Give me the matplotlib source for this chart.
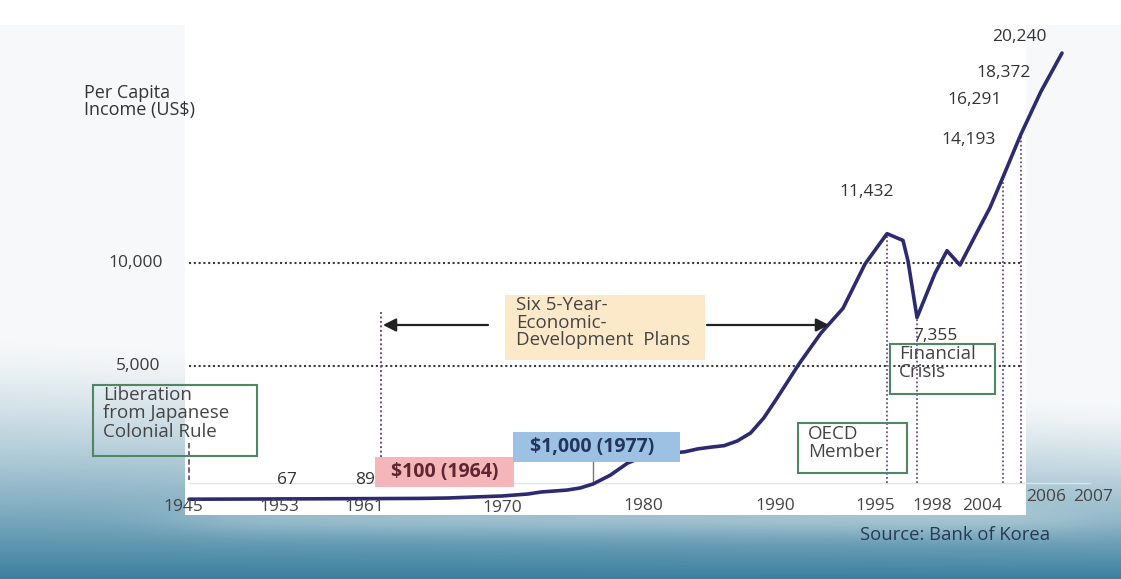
import numpy as np
import matplotlib
matplotlib.use("Agg")
import matplotlib.pyplot as plt
from matplotlib.patches import Rectangle, FancyArrowPatch
from matplotlib.lines import Line2D

# ---------------- data ----------------
years = [1945, 1953, 1961, 1964, 1966, 1968, 1970, 1972, 1973, 1974, 1975, 1976,
         1977, 1978, 1979, 1980, 1981, 1982, 1983, 1984, 1985, 1986, 1987, 1988,
         1989, 1990, 1991, 1992, 1993, 1994, 1995, 1996, 1997, 1998, 1999, 2000,
         2001, 2002, 2003, 2004, 2005, 2006, 2007]
income = [50, 67, 89, 100, 125, 190, 250, 375, 500, 560, 620, 750,
          1000, 1300, 1710, 1950, 2000, 2050, 2090, 2190, 2250, 2300, 2460, 2730,
          3240, 3910, 5100, 6600, 7800, 9950, 11432, 11100, 10100, 7355, 9500, 10600,
          9900, 11500, 12700, 14193, 16291, 18372, 20240]

tick_years = [1945, 1953, 1961, 1970, 1980, 1990, 1995, 1998, 2004, 2006, 2007]
grid_values = [5000, 10000]
grid_labels = ["5,000", "10,000"]

label_years = [1953, 1961, 1995, 1998, 2004, 2005, 2006, 2007]
label_values = [67, 89, 11432, 7355, 14193, 16291, 18372, 20240]
label_texts = ["67", "89", "11,432", "7,355", "14,193", "16,291", "18,372", "20,240"]

event_years_curve = [1995, 1998, 2004, 2005]

# ---------------- layout / styles ----------------
W, H = 1121, 579
FONT = ["Open Sans", "DejaVu Sans"]
plt.rcParams["font.family"] = FONT

# piecewise scale anchors (the infographic's axes are not linear)
X_YEARS = [1945, 1953, 1961, 1970, 1977, 1980, 1990, 1995, 1996, 1997, 1998, 1999,
           2000, 2001, 2002, 2003, 2004, 2005, 2006, 2007]
X_PX = [189, 281, 381, 502, 593, 645, 777, 887, 903, 908, 917, 935,
        947, 960, 977, 990, 1003, 1021, 1041, 1062]
Y_VALS = [0, 1000, 5000, 10000, 25000]
Y_PX = [0, 16, 134, 237, 544.5]
AX_BOTTOM_PX, AX_TOP_PX = 500, 54


def xfwd(v):
    return np.interp(v, X_YEARS, X_PX)


def xinv(p):
    return np.interp(p, X_PX, X_YEARS)


def yfwd(v):
    return np.interp(v, Y_VALS, Y_PX)


def yinv(p):
    return np.interp(p, Y_PX, Y_VALS)


def F(x, y):
    """figure-pixel (from top-left) -> figure fraction"""
    return (x / W, 1 - y / H)


def axfrac(ypx):
    return (AX_BOTTOM_PX - ypx) / (AX_BOTTOM_PX - AX_TOP_PX)


fig = plt.figure(figsize=(W / 100, H / 100), dpi=100)

# ---------------- background ----------------
bg = fig.add_axes([0, 0, 1, 1], zorder=0)
bg.set_axis_off()
yy, xx = np.mgrid[0:H, 0:W].astype(float)
light = np.array([0.972, 0.976, 0.980])
teal = np.array([0.23, 0.50, 0.62])
y0 = 335 + 65 * (xx / W)
s = np.clip((yy - y0) / (H - y0), 0, 1) ** 1.35
wx = 1 / (1 + np.exp(-(xx - 190) / 35)) * 1 / (1 + np.exp(-(1080 - xx) / 35))
glow = 0.16 * np.exp(-((yy - 520) / 16) ** 2) * wx
s = np.clip(s - glow, 0, 1)
img = light * (1 - s[..., None]) + teal * s[..., None]
bg.imshow(img, extent=[0, 1, 0, 1], aspect="auto", interpolation="bilinear")
bg.set_xlim(0, 1)
bg.set_ylim(0, 1)

# white panel
fig.patches.append(Rectangle(F(185, 515), (1026 - 185) / W, (515 - 25) / H,
                             transform=fig.transFigure, facecolor="white",
                             edgecolor="none", zorder=1))
fig.patches.append(Rectangle(F(0, 25), 1, 25 / H, transform=fig.transFigure,
                             facecolor="white", edgecolor="none", zorder=1))
# thin light line at panel base
fig.lines.append(Line2D([189 / W, 1090 / W], [1 - 483 / H, 1 - 483 / H],
                        transform=fig.transFigure, color="#dde5e9", lw=1.0, zorder=2))

# ---------------- main axes ----------------
ax = fig.add_axes([189 / W, 1 - AX_BOTTOM_PX / H, (1062 - 189) / W,
                   (AX_BOTTOM_PX - AX_TOP_PX) / H], zorder=3)
ax.set_xscale("function", functions=(xfwd, xinv))
ax.set_yscale("function", functions=(yfwd, yinv))
ax.set_xlim(1945, 2007)
ax.set_ylim(0, yinv(AX_BOTTOM_PX - AX_TOP_PX))
ax.set_axis_off()
ax.patch.set_alpha(0)

xtr = ax.get_xaxis_transform()
GRID_C = "#3a3a3a"
EV_C = "#6a4f80"
dot = (0, (1, 1.3))
NUM_FS = 12.5

# horizontal dotted reference lines
for v in grid_values:
    ax.plot([1944.6, 2005], [v, v], color=GRID_C, lw=1.5, ls=dot, zorder=2,
            clip_on=False)

# y labels
for v, t, dx in zip(grid_values, grid_labels, [-29, -26]):
    ax.annotate(t, xy=(1945, v), xytext=(dx, 0), textcoords="offset pixels",
                ha="right", va="center", fontsize=NUM_FS, color="#3a3a3a",
                annotation_clip=False)

# vertical event lines down to the panel base
base_v = yinv(AX_BOTTOM_PX - 483)
for yr in event_years_curve:
    v = income[years.index(yr)]
    ax.plot([yr, yr], [base_v, v], color=EV_C, lw=1.3, ls=dot, zorder=2)

# other vertical markers
ax.plot([1945, 1945], [axfrac(443), axfrac(480)], transform=xtr, color=EV_C,
        lw=1.3, ls=(0, (3, 1.5)), zorder=2, clip_on=False)
ax.plot([1961, 1961], [axfrac(312), axfrac(465)], transform=xtr, color=EV_C,
        lw=1.4, ls=dot, zorder=2, clip_on=False)
ax.plot([1977, 1977], [axfrac(462), axfrac(484)], transform=xtr, color="#777777",
        lw=1.0, zorder=2, clip_on=False)

# main curve
ax.plot(years, income, color="#2c2a70", lw=2.6, solid_joinstyle="round",
        solid_capstyle="round", zorder=5, clip_on=False)

# value labels
label_offsets = [(6, 19), (-16, 19), (-20, 42), (18, -19), (-34, 37), (-46, 34),
                 (-37, 18), (-43, 16)]
for yr, v, t, (dx, dy) in zip(label_years, label_values, label_texts, label_offsets):
    ax.annotate(t, xy=(yr, v), xytext=(dx, dy), textcoords="offset pixels",
                ha="center", va="center", fontsize=NUM_FS, color="#333333",
                annotation_clip=False, zorder=6)

# x labels
tick_offsets = [(-6, -7), (-2, -7), (-17, -7), (0, -8), (-2, -6), (-2, -6),
                (-12, -6), (15, -6), (-21, -6), (5, 3), (31, 3)]
for yr, (dx, dy) in zip(tick_years, tick_offsets):
    ax.annotate(str(yr), xy=(yr, 0), xytext=(dx, dy), textcoords="offset pixels",
                ha="center", va="center", fontsize=NUM_FS, color="#444444",
                annotation_clip=False, zorder=6)

# ---------------- annotation boxes ----------------
def box(x0, y0, x1, y1, fc="none", ec="none", lw=1.5, z=4):
    fig.patches.append(Rectangle(F(x0, y1), (x1 - x0) / W, (y1 - y0) / H,
                                 transform=fig.transFigure, facecolor=fc,
                                 edgecolor=ec, lw=lw, zorder=z))


GREEN = "#4f8762"
TXT = "#444444"
BOX_FS = 13.5
LS = 1.03

box(93, 385, 257, 456, ec=GREEN)
fig.text(*F(103, 386), "Liberation\nfrom Japanese\nColonial Rule", ha="left",
         va="top", fontsize=BOX_FS, color=TXT, linespacing=LS, zorder=6)

box(798, 423, 907, 473, ec=GREEN)
fig.text(*F(808, 425), "OECD\nMember", ha="left", va="top", fontsize=BOX_FS,
         color=TXT, linespacing=LS, zorder=6)

box(890, 344, 995, 394, ec=GREEN)
fig.text(*F(899, 345), "Financial\nCrisis", ha="left", va="top", fontsize=BOX_FS,
         color=TXT, linespacing=LS, zorder=6)

box(375, 457, 514, 487, fc="#f5b6ba", z=4)
ax.plot([1964, 1964], [axfrac(458), axfrac(483)], transform=xtr, color="#9a8890",
        lw=1.0, ls=dot, zorder=4.5, clip_on=False)
fig.text(*F(445, 472), "$100 (1964)", ha="center", va="center", fontsize=14,
         fontweight="bold", color="#5e2630", zorder=6)

box(513, 432, 680, 462, fc="#9dc1e3", z=4)
fig.text(*F(592, 447), "$1,000 (1977)", ha="center", va="center", fontsize=14,
         fontweight="bold", color="#22355f", zorder=6)

box(505, 295, 705, 360, fc="#fce9c9", z=4)
fig.text(*F(516, 296), "Six 5-Year-\nEconomic-\nDevelopment  Plans", ha="left",
         va="top", fontsize=BOX_FS, color=TXT, linespacing=0.98, zorder=6)

# arrows for the five-year plans
arrow_kw = dict(arrowstyle="-|>,head_length=0.55,head_width=0.28", color="#222222",
                lw=1.6, shrinkA=0, shrinkB=0, mutation_scale=14)
fig.add_artist(FancyArrowPatch(F(488, 325), F(383, 325), transform=fig.transFigure,
                               zorder=6, **arrow_kw))
fig.add_artist(FancyArrowPatch(F(707, 325), F(829, 325), transform=fig.transFigure,
                               zorder=6, **arrow_kw))

# axis title and source
fig.text(*F(84, 84), "Per Capita\nIncome (US$)", ha="left", va="top", fontsize=13,
         color="#333333", linespacing=0.92, zorder=6)
fig.text(*F(860, 535), "Source: Bank of Korea", ha="left", va="center",
         fontsize=13.3, color="#263a55", zorder=6)

fig.savefig("out.png", dpi=100)
